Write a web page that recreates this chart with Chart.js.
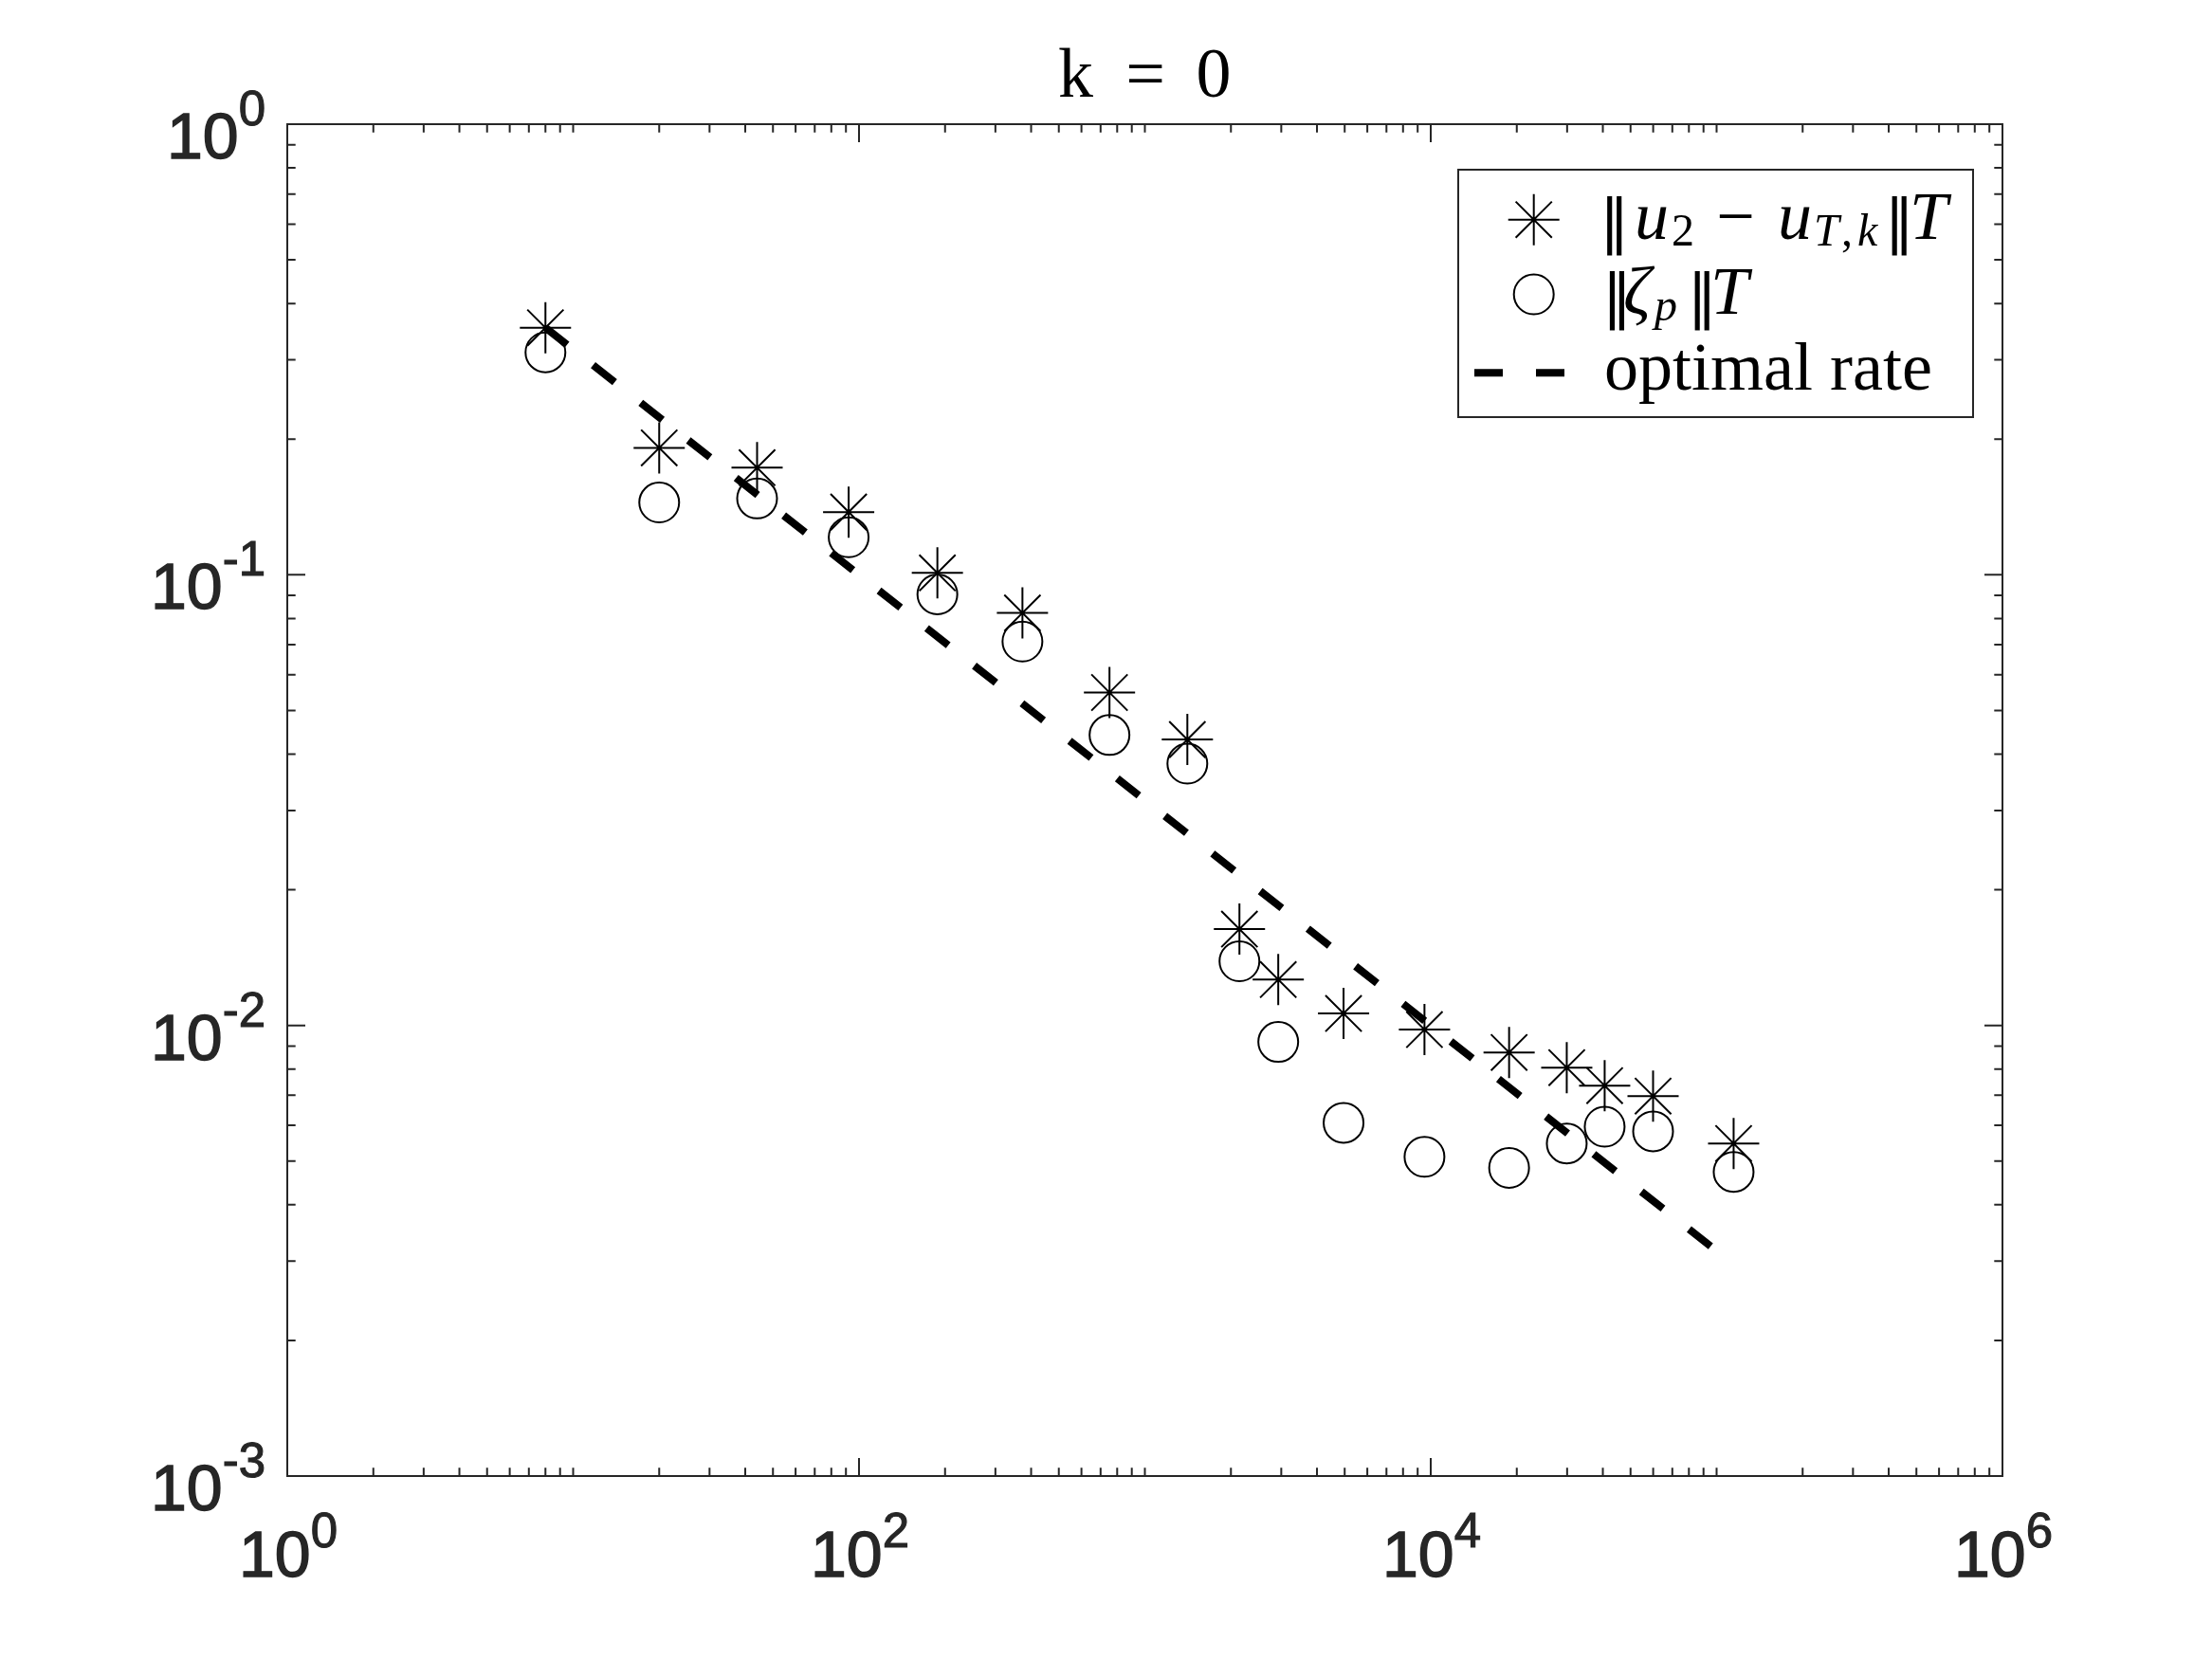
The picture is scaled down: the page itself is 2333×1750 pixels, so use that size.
<!DOCTYPE html>
<html>
<head>
<meta charset="utf-8">
<title>k = 0</title>
<script src="https://cdn.jsdelivr.net/npm/chart.js@4.4.1/dist/chart.umd.min.js"></script>
<style>
  html, body { margin: 0; padding: 0; background: #ffffff; }
  #wrap { width: 2333px; height: 1750px; position: relative; }
</style>
</head>
<body>
<div id="wrap"><canvas id="RateChart"></canvas></div>
<script>
// Number of degrees of freedom of every mesh (x axis)
const meshDofs = [8, 20, 44, 92, 188, 373, 752, 1408, 2142, 2928, 4955, 9508, 18800, 29910, 40590, 59950, 114700];
// ||u_2 - u_T,k||_T (asterisks)
const errorValues = [0.3534, 0.1913, 0.1729, 0.1378, 0.1010, 0.0823, 0.0548, 0.0431, 0.01636, 0.01264, 0.01063, 0.00979, 0.00871, 0.00806, 0.00735, 0.00697, 0.00547];
// ||zeta_p||_T (circles)
const estimatorValues = [0.3116, 0.1447, 0.1477, 0.1211, 0.0905, 0.0711, 0.0441, 0.0381, 0.01388, 0.00919, 0.00608, 0.00511, 0.00483, 0.00547, 0.00596, 0.00582, 0.00473];
// the two ends of the optimal rate line
const rateDofs = [8, 114700];
const rateValues = [0.3536, 0.00295];
// decades that carry a label on each axis
const xLabelPowers = [0, 2, 4, 6];
const yLabelPowers = [0, -1, -2, -3];

const AXIS_COLOR = "#262626";
const SERIF = '"Liberation Serif", "DejaVu Serif", serif';
const SANS = '"Liberation Sans", Arial, sans-serif';

// puts the x and y arrays together the way the scatter chart wants them
function to_points(xs, ys) {
  return xs.map((x, i) => ({ x: x, y: ys[i] }));
}

// writes a text and goes over it once more with a thin stroke, so it looks as heavy as the original
function heavy_text(ctx, text, x, y, weight) {
  ctx.fillText(text, x, y);
  ctx.lineWidth = weight;
  ctx.strokeText(text, x, y);
}

// draws "10" with a raised exponent, like the MATLAB tick labels
function draw_power_label(ctx, power, x, baseY, expY, align) {
  const expText = String(power);
  ctx.font = "68px " + SANS;
  const wBase = ctx.measureText("10").width;
  ctx.font = "51px " + SANS;
  const wExp = ctx.measureText(expText).width;
  let left = align === "right" ? x - wBase - wExp : x - (wBase + wExp) / 2;
  ctx.fillStyle = AXIS_COLOR;
  ctx.strokeStyle = AXIS_COLOR;
  ctx.textAlign = "left";
  ctx.textBaseline = "alphabetic";
  ctx.font = "68px " + SANS;
  heavy_text(ctx, "10", left, baseY, 1.4);
  ctx.font = "51px " + SANS;
  heavy_text(ctx, expText, left + wBase, expY, 1.1);
}

// draws a list of text pieces, every piece has its own font and place
function draw_runs(ctx, runs, baseY) {
  ctx.fillStyle = "#000000";
  ctx.textBaseline = "alphabetic";
  runs.forEach(r => {
    ctx.font = r.font;
    ctx.textAlign = r.align || "left";
    ctx.fillText(r.t, r.x, baseY + (r.dy || 0));
  });
}

// the asterisk and circle used in the legend
function legend_marker(ctx, style, x, y, r) {
  ctx.save();
  ctx.strokeStyle = "#000000";
  ctx.lineWidth = 2;
  ctx.beginPath();
  if (style === "star") {
    for (let k = 0; k < 4; k++) {
      const a = k * Math.PI / 4;
      ctx.moveTo(x - Math.cos(a) * r, y - Math.sin(a) * r);
      ctx.lineTo(x + Math.cos(a) * r, y + Math.sin(a) * r);
    }
  } else {
    ctx.arc(x, y, r, 0, 2 * Math.PI);
  }
  ctx.stroke();
  ctx.restore();
}

// plugin for everything MATLAB draws around the data: box, inward ticks, labels, title, legend
const matlabFrame = {
  id: "matlabFrame",
  beforeDraw(chart) {
    const ctx = chart.ctx;
    ctx.save();
    ctx.fillStyle = "#ffffff";
    ctx.fillRect(0, 0, chart.width, chart.height);
    ctx.restore();
  },
  afterDraw(chart) {
    const ctx = chart.ctx;
    const area = chart.chartArea;
    const xs = chart.scales.x;
    const ys = chart.scales.y;
    ctx.save();
    // the box
    ctx.strokeStyle = AXIS_COLOR;
    ctx.lineWidth = 2;
    ctx.strokeRect(area.left, area.top, area.right - area.left, area.bottom - area.top);
    // ticks on the x axis (labelled decades are long, the rest short)
    ctx.beginPath();
    for (let p = 0; p < 6; p++) {
      for (let m = 1; m < 10; m++) {
        const v = m * Math.pow(10, p);
        if (v <= 1 || v >= 1e6) continue;
        const px = xs.getPixelForValue(v);
        const len = (m === 1 && p % 2 === 0) ? 19 : 8.7;
        ctx.moveTo(px, area.bottom); ctx.lineTo(px, area.bottom - len);
        ctx.moveTo(px, area.top); ctx.lineTo(px, area.top + len);
      }
    }
    // ticks on the y axis (every decade is long)
    for (let p = -3; p < 0; p++) {
      for (let m = 1; m < 10; m++) {
        const v = m * Math.pow(10, p);
        if (v <= 1e-3) continue;
        const py = ys.getPixelForValue(v);
        const len = m === 1 ? 19 : 8.7;
        ctx.moveTo(area.left, py); ctx.lineTo(area.left + len, py);
        ctx.moveTo(area.right, py); ctx.lineTo(area.right - len, py);
      }
    }
    ctx.stroke();
    // tick labels
    xLabelPowers.forEach(p => {
      const px = xs.getPixelForValue(Math.pow(10, p));
      draw_power_label(ctx, p, px + 1, area.bottom + 106, area.bottom + 75, "center");
    });
    yLabelPowers.forEach(p => {
      const py = ys.getPixelForValue(Math.pow(10, p));
      draw_power_label(ctx, p, area.left - 23, py + 36, py + 1, "right");
    });
    // title k = 0
    const titleFont = "74px " + SERIF;
    draw_runs(ctx, [
      { t: "k", font: titleFont, x: 1116 },
      { t: "=", font: titleFont, x: 1208, align: "center" },
      { t: "0", font: titleFont, x: 1280, align: "center" }
    ], 101.7);
    // legend box
    ctx.fillStyle = "#ffffff";
    ctx.fillRect(1538, 179, 543, 261);
    ctx.strokeStyle = AXIS_COLOR;
    ctx.lineWidth = 2;
    ctx.strokeRect(1538, 179, 543, 261);
    legend_marker(ctx, "star", 1617.7, 231.7, 27);
    legend_marker(ctx, "circle", 1617.7, 310.5, 21);
    ctx.save();
    ctx.strokeStyle = "#000000";
    ctx.lineWidth = 8;
    ctx.setLineDash([30, 35]);
    ctx.beginPath();
    ctx.moveTo(1555, 393.3);
    ctx.lineTo(1651, 393.3);
    ctx.stroke();
    ctx.restore();
    // legend texts, math pieces placed one by one
    const N = "72px " + SERIF;
    const I = "italic 72px " + SERIF;
    const S = "48px " + SERIF;
    const SI = "italic 48px " + SERIF;
    const BAR = '62px "DejaVu Sans", sans-serif';
    draw_runs(ctx, [
      { t: "\u2016", font: BAR, x: 1702.7, align: "center", dy: 2 },
      { t: "u", font: I, x: 1724 },
      { t: "2", font: S, x: 1763, dy: 7 },
      { t: "\u2212", font: N, x: 1830.5, align: "center" },
      { t: "u", font: I, x: 1875 },
      { t: "T", font: SI, x: 1913, dy: 7 },
      { t: ",", font: S, x: 1942, dy: 7 },
      { t: "k", font: SI, x: 1959, dy: 7 },
      { t: "\u2016", font: BAR, x: 2003.3, align: "center", dy: 2 },
      { t: "T", font: I, x: 2014 }
    ], 252);
    draw_runs(ctx, [
      { t: "\u2016", font: BAR, x: 1705.5, align: "center", dy: 2 },
      { t: "\u03b6", font: I, x: 1712 },
      { t: "p", font: SI, x: 1745, dy: 7 },
      { t: "\u2016", font: BAR, x: 1795.3, align: "center", dy: 2 },
      { t: "T", font: I, x: 1804 }
    ], 331);
    draw_runs(ctx, [{ t: "optimal rate", font: N, x: 1692 }], 411);
    ctx.restore();
  }
};

// the chart itself, log-log scatter with the rate line on top
function Rate_chart() {
  const contex = document.getElementById("RateChart").getContext("2d");
  return new Chart(contex, {
    type: "scatter",
    data: {
      datasets: [
        {
          label: "optimal rate",
          data: to_points(rateDofs, rateValues),
          showLine: true,
          borderColor: "#000000",
          borderWidth: 8,
          borderDash: [29, 35],
          pointRadius: 0,
          order: 0
        },
        {
          label: "error",
          data: to_points(meshDofs, errorValues),
          pointStyle: "star",
          pointRadius: 27,
          borderWidth: 2,
          borderColor: "#000000",
          backgroundColor: "rgba(0,0,0,0)",
          order: 1
        },
        {
          label: "estimator",
          data: to_points(meshDofs, estimatorValues),
          pointStyle: "circle",
          pointRadius: 21,
          borderWidth: 2,
          borderColor: "#000000",
          backgroundColor: "rgba(0,0,0,0)",
          order: 2
        }
      ]
    },
    options: {
      responsive: true,
      maintainAspectRatio: false,
      devicePixelRatio: 1,
      animation: false,
      events: [],
      layout: { padding: { left: 303, right: 221, top: 131, bottom: 193 } },
      plugins: {
        legend: { display: false },
        title: { display: false },
        tooltip: { enabled: false }
      },
      scales: {
        x: { type: "logarithmic", min: 1, max: 1e6, display: false },
        y: { type: "logarithmic", min: 1e-3, max: 1, display: false }
      }
    },
    plugins: [matlabFrame]
  });
}

Rate_chart();
</script>
</body>
</html>
